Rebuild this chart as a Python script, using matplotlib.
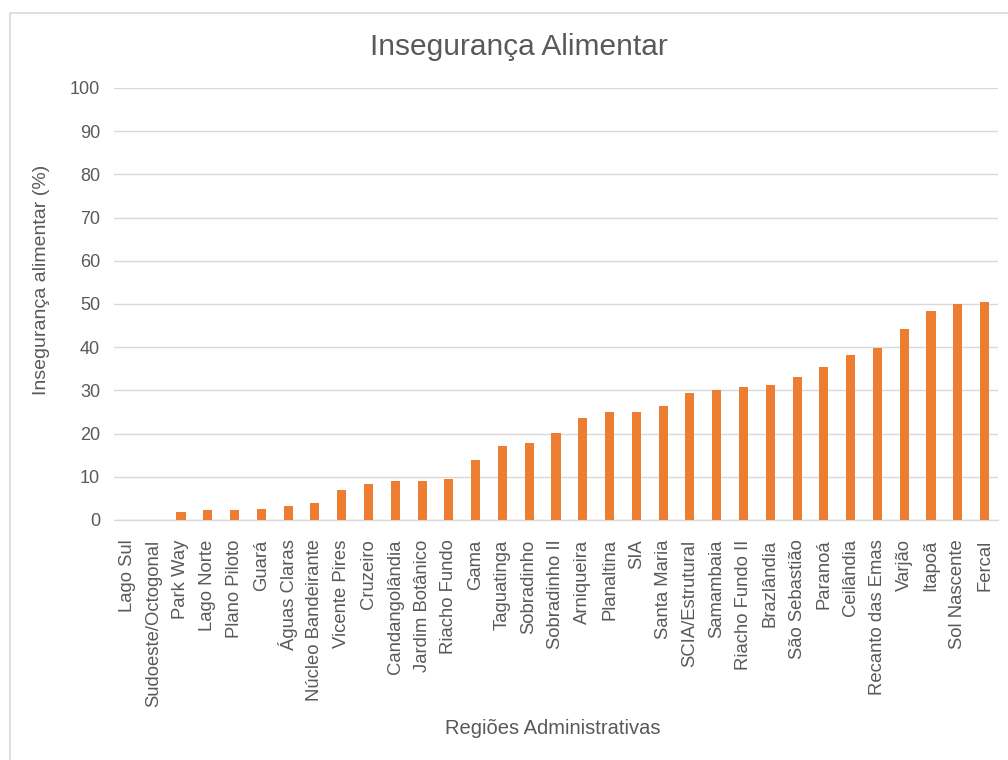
import matplotlib
matplotlib.use("Agg")
import matplotlib.pyplot as plt
from matplotlib.patches import Rectangle

plt.rcParams['font.family'] = ['Liberation Sans', 'DejaVu Sans']

regioes = [
    "Lago Sul", "Sudoeste/Octogonal", "Park Way", "Lago Norte", "Plano Piloto",
    "Guará", "Águas Claras", "Núcleo Bandeirante", "Vicente Pires", "Cruzeiro",
    "Candangolândia", "Jardim Botânico", "Riacho Fundo", "Gama", "Taguatinga",
    "Sobradinho", "Sobradinho II", "Arniqueira", "Planaltina", "SIA",
    "Santa Maria", "SCIA/Estrutural", "Samambaia", "Riacho Fundo II", "Brazlândia",
    "São Sebastião", "Paranoá", "Ceilândia", "Recanto das Emas", "Varjão",
    "Itapoã", "Sol Nascente", "Fercal",
]
inseguranca = [
    0.0, 0.0, 1.9, 2.2, 2.2,
    2.6, 3.3, 4.0, 6.9, 8.4,
    9.1, 9.1, 9.5, 13.9, 17.2,
    17.9, 20.1, 23.7, 24.9, 24.9,
    26.3, 29.3, 30.0, 30.9, 31.3,
    33.2, 35.5, 38.2, 39.7, 44.3,
    48.3, 50.0, 50.5,
]
yticks = list(range(0, 101, 10))

W, H = 1008, 760
TXT = "#595959"
fig = plt.figure(figsize=(W / 100, H / 100), dpi=100)

# light outer frame of the chart area
fig.patches.append(Rectangle((10 / W, -0.1), 1.2, 1.1 - 13 / H, transform=fig.transFigure,
                             fill=False, edgecolor="#d9d9d9", linewidth=1.2))

ax = fig.add_axes([114 / W, 1 - 520 / H, (998 - 114) / W, (520 - 88) / H])
x = range(len(regioes))
ax.bar(x, inseguranca, width=0.34, color="#ed7d31", zorder=3)

ax.set_xlim(-0.5, len(regioes) - 0.5)
ax.set_ylim(0, 100)
ax.set_yticks(yticks)
ax.set_xticks(list(x))
ax.set_xticklabels(regioes, rotation=90, fontsize=13.3, color=TXT)
ax.tick_params(axis="y", labelsize=13, labelcolor=TXT, length=0, pad=10)
ax.tick_params(axis="x", length=0, pad=14)
ax.grid(axis="y", color="#d9d9d9", linewidth=1.0, zorder=0)
for s in ["top", "right", "left"]:
    ax.spines[s].set_visible(False)
ax.spines["bottom"].set_color("#d9d9d9")
ax.spines["bottom"].set_linewidth(1.0)

fig.text(42 / W, 1 - 280 / H, "Insegurança alimentar (%)", fontsize=14, color=TXT,
         rotation=90, ha="center", va="center")
fig.text(519 / W, 1 - 47 / H, "Insegurança Alimentar", fontsize=21.5, color=TXT,
         ha="center", va="center")
fig.text(553 / W, 1 - 728 / H, "Regiões Administrativas", fontsize=14.5, color=TXT,
         ha="center", va="center")

fig.savefig("out.png", dpi=100)
